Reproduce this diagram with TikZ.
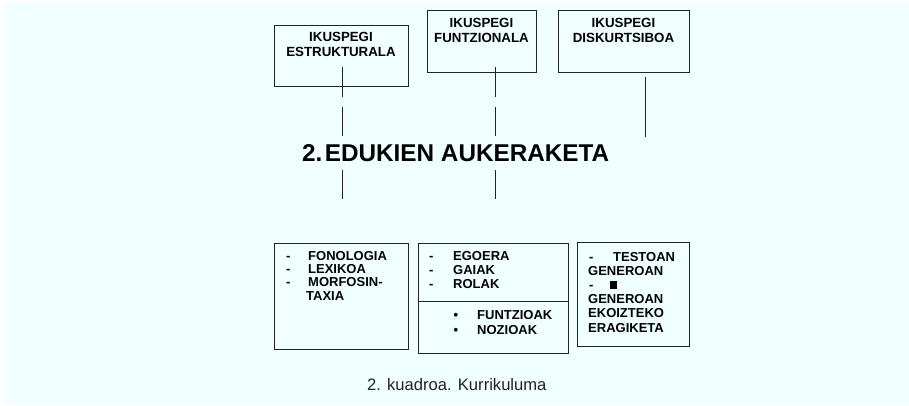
\documentclass[tikz,border=0pt]{standalone}
\usepackage{fontspec}
\setmainfont{Liberation Sans}
\definecolor{bg}{RGB}{240,255,255}
\definecolor{ln}{RGB}{35,35,35}
\begin{document}
\begin{tikzpicture}[x=1pt,y=-1pt,
  box/.style={draw=ln, line width=1pt, fill=bg, inner sep=0pt, anchor=north west},
  conn/.style={draw=ln, line width=1pt},
  head/.style={font=\fontsize{13.3}{15}\selectfont\bfseries, anchor=base, inner sep=0pt},
  item/.style={font=\fontsize{13}{15}\selectfont\bfseries, anchor=base west, inner sep=0pt},
  title/.style={font=\fontsize{24.3}{27}\selectfont\bfseries, anchor=base west, inner sep=0pt},
  capt/.style={font=\fontsize{16.6}{19}\selectfont, text=ln, anchor=base west, inner sep=0pt}]
\useasboundingbox (0,0) rectangle (909,406);
\fill[bg] (3,3) rectangle (909,404);

% upper boxes
\node[box, minimum width=134pt, minimum height=61pt] (b1) at (274,25) {};
\node[box, minimum width=109pt, minimum height=62pt] (b2) at (427,10) {};
\node[box, minimum width=131pt, minimum height=62pt] (b3) at (558,10) {};
\node[head] (b1t1) at (341,41.5) {IKUSPEGI};
\node[head] (b1t2) at (341,56.5) {ESTRUKTURALA};
\node[head] (b2t1) at (481.5,28) {IKUSPEGI};
\node[head] (b2t2) at (481.5,43) {FUNTZIONALA};
\node[head] (b3t1) at (623.5,28) {IKUSPEGI};
\node[head] (b3t2) at (623.5,43) {DISKURTSIBOA};

% connector lines
\coordinate (a1) at (342,67);  \coordinate (a2) at (342,97);
\coordinate (a3) at (342,107); \coordinate (a4) at (342,136);
\coordinate (a5) at (342,170); \coordinate (a6) at (342,199);
\coordinate (c1) at (495,67);  \coordinate (c2) at (495,97);
\coordinate (c3) at (495,107); \coordinate (c4) at (495,136);
\coordinate (c5) at (495,170); \coordinate (c6) at (495,199);
\coordinate (d1) at (645.5,77); \coordinate (d2) at (645.5,137);
\draw[conn] (a1) -- (a2) (a3) -- (a4) (a5) -- (a6);
\draw[conn] (c1) -- (c2) (c3) -- (c4) (c5) -- (c6);
\draw[conn] (d1) -- (d2);

% title
\node[title] (ttl) at (302,162) {2.\hspace{0.1em}EDUKIEN AUKERAKETA};

% lower boxes
\node[box, minimum width=134pt, minimum height=106pt] (bA) at (274,243) {};
\node[box, minimum width=150pt, minimum height=110pt] (bB) at (418,243) {};
\node[box, minimum width=112pt, minimum height=104pt] (bC) at (577,242) {};
\coordinate (divl) at (418,301);
\coordinate (divr) at (568,301);
\draw[conn] (divl) -- (divr);

% box A
\node[item] (aD1) at (286,260) {-};
\node[item] (aT1) at (308,260) {FONOLOGIA};
\node[item] (aD2) at (286,273.3) {-};
\node[item] (aT2) at (308,273.3) {LEXIKOA};
\node[item] (aD3) at (286,286.7) {-};
\node[item] (aT3) at (308,286.7) {MORFOSIN-};
\node[item] (aT4) at (306,300) {TAXIA};

% box B
\node[item] (bD1) at (429,260) {-};
\node[item] (bT1) at (453,260) {EGOERA};
\node[item] (bD2) at (429,274.3) {-};
\node[item] (bT2) at (453,274.3) {GAIAK};
\node[item] (bD3) at (429,288.5) {-};
\node[item] (bT3) at (453,288.5) {ROLAK};
\node[item] (bB1) at (453.5,319.3) {•};
\node[item] (bT4) at (477,319.3) {FUNTZIOAK};
\node[item] (bB2) at (453.5,334) {•};
\node[item] (bT5) at (477,334) {NOZIOAK};

% box C
\node[item] (cD1) at (589,261) {-};
\node[item] (cT1) at (613,261) {TESTOAN};
\node[item] (cT2) at (588,275) {GENEROAN};
\node[item] (cD2) at (589,289) {-};
\node[item] (cBl) at (610,289) {\rule{7pt}{8.5pt}};
\node[item] (cT3) at (588,303) {GENEROAN};
\node[item] (cT4) at (588,317.5) {EKOIZTEKO};
\node[item] (cT5) at (588,332) {ERAGIKETA};

% caption
\node[capt] (cap) at (367,390) {2. kuadroa. Kurrikuluma};
\end{tikzpicture}
\end{document}
